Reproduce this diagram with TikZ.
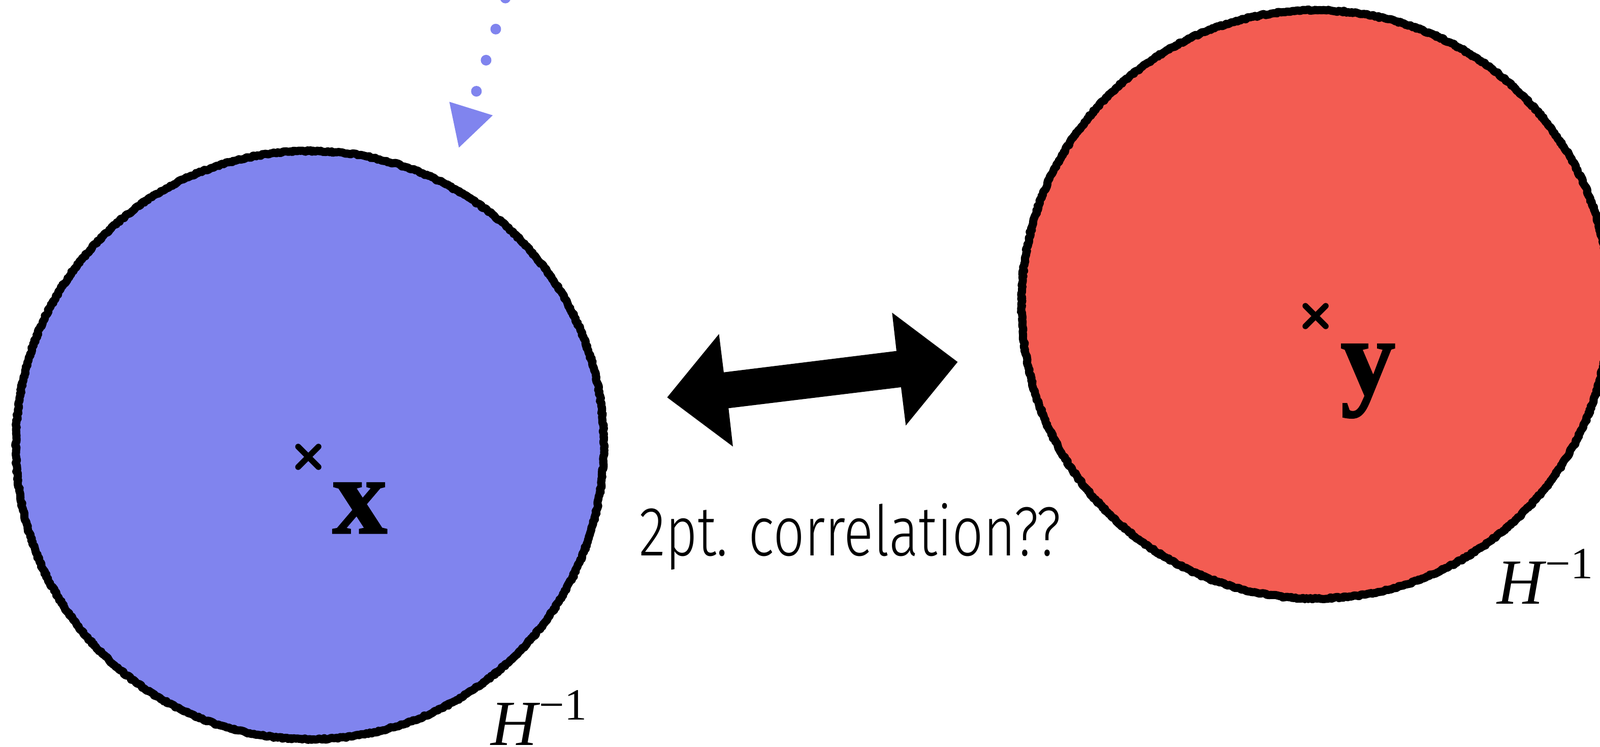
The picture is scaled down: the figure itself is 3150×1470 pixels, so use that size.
\documentclass[tikz,border=0pt]{standalone}
\usepackage{fontspec}
\setmainfont{Liberation Serif}
\newfontfamily\vecfont[BoldFeatures={FakeBold=1.6}]{Liberation Serif}
\newfontfamily\corrfont[FakeStretch=0.79]{Fira Sans Light}
\usetikzlibrary{decorations.pathmorphing, arrows.meta}
\definecolor{blobblue}{RGB}{128,132,238}
\definecolor{blobred}{RGB}{243,92,82}
\newcommand{\hinvlabel}{{\fontsize{36}{40}\selectfont\itshape H}\raisebox{14pt}{\fontsize{25}{30}\selectfont \kern1pt−1}}
\begin{document}
\begin{tikzpicture}[x=0.01cm, y=-0.01cm,
  region/.style={circle, minimum size=11.57cm, inner sep=0pt, draw=black,
    line width=0.16cm, line join=round, decorate,
    decoration={random steps, segment length=1pt, amplitude=0.45pt}},
  crossline/.style={draw=black, line width=0.115cm, line cap=round},
  vecl/.style={anchor=base west, inner sep=0pt, font=\vecfont\fontsize{61}{70}\selectfont\bfseries},
  hlabel/.style={anchor=base west, inner sep=0pt},
  dotarrow/.style={draw=blobblue, line width=0.21cm, line cap=round,
    dash pattern=on 0pt off 0.64cm,
    -{Triangle[length=0.82cm, width=0.83cm, fill=blobblue]}}]
\useasboundingbox (0,0) rectangle (3150,1470);
\fill[white] (0,0) rectangle (3150,1470);
% regions
\node[region, fill=blobblue] (bx) at (610,876) {};
\node[region, fill=blobred] (by) at (2590,599) {};
% centre marks
\coordinate (cx) at (607,899);
\coordinate (cy) at (2590,622);
\draw[crossline] (cx) +(-20,-20) -- +(20,20) (cx) +(-20,20) -- +(20,-20);
\draw[crossline] (cy) +(-20,-20) -- +(20,20) (cy) +(-20,20) -- +(20,-20);
% labels
\node[vecl] (lx) at (654,1049) {x};
\node[vecl] (ly) at (2639,776) {y};
\node[hlabel] (hx) at (966,1466) {\hinvlabel};
\node[hlabel] (hy) at (2947,1188) {\hinvlabel};
\node[anchor=base west, inner sep=0pt, font=\corrfont\fontsize{39}{45}\selectfont] (corr) at (1258,1093) {2pt. correlation??};
% double arrow
\fill[black] (1313.5,782) -- (1415.5,657.3) -- (1424.9,732.7) -- (1764.9,690.7)
  -- (1756.3,615.3) -- (1885.3,712.3) -- (1783.3,837.3) -- (1773.9,762)
  -- (1434.3,803.3) -- (1442.9,878.7) -- cycle;
% dotted arrow
\coordinate (dotstart) at (1014,-65);
\coordinate (dotend) at (903,292);
\draw[dotarrow] (dotstart) -- (dotend);
\end{tikzpicture}
\end{document}
